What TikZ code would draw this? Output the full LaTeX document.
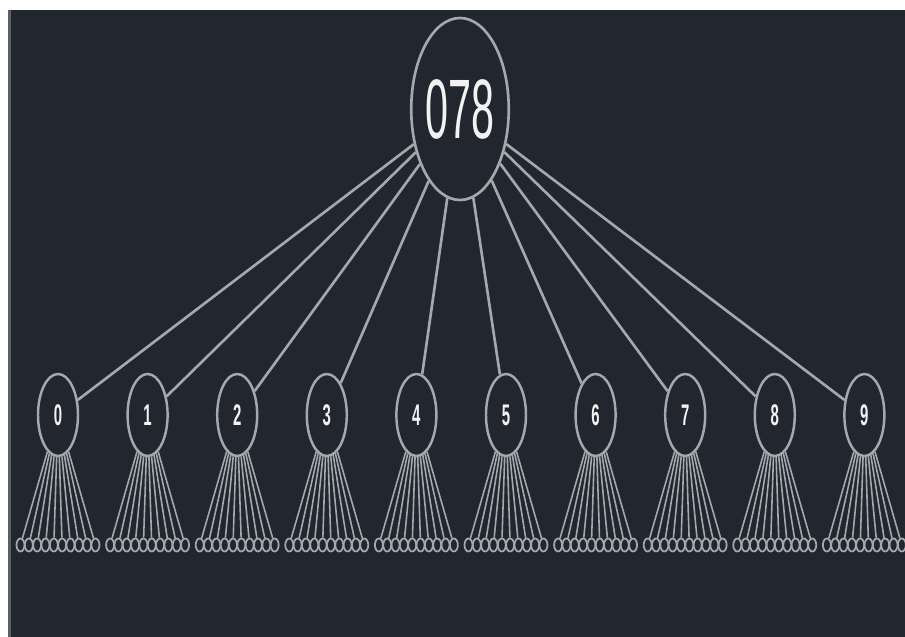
\documentclass[tikz,border=0pt]{standalone}
\usepackage{fontspec}
\setmainfont{Liberation Sans}
\usepackage{graphicx}
\usepackage{xcolor}
\usepackage{tikz}
\usetikzlibrary{shapes.geometric}
\definecolor{bgdark}{HTML}{22272F}
\definecolor{edgegray}{HTML}{5A6068}
\definecolor{linegray}{HTML}{A4A9AE}
\definecolor{digitwhite}{HTML}{F2F2F2}

\begin{document}
\begin{tikzpicture}[
  rootnode/.style={ellipse, draw=linegray, line width=0.75pt, inner sep=0pt,
    minimum width=0.86cm, minimum height=1.82cm, text=digitwhite},
  digitnode/.style={ellipse, draw=linegray, line width=0.7pt, inner sep=0pt,
    minimum width=0.40cm, minimum height=0.82cm, text=digitwhite},
  leafnode/.style={ellipse, draw=linegray, line width=0.5pt, inner sep=0pt,
    minimum width=0.08cm, minimum height=0.13cm},
  rootlink/.style={linegray, line width=0.75pt},
  leaflink/.style={linegray, line width=0.45pt}]
  \useasboundingbox (0,0) rectangle (9.05,6.37);
  % backdrop
  \fill[white] (0,0) rectangle (9.05,6.37);
  \fill[bgdark] (0.08,0) rectangle (9.05,6.27);
  \fill[edgegray] (0.08,0) rectangle (0.11,6.27);
  % root
  \node[rootnode] (root) at (4.60,5.28)
    {\scalebox{0.49}[1]{\fontsize{24}{24}\selectfont 078}};
  % digits and their leaves
  \foreach \i in {0,...,9} {
    \node[digitnode] (c\i) at ({0.58+0.896*\i},2.22)
      {\scalebox{0.5}[1]{\fontsize{8.5}{8.5}\selectfont\bfseries \i}};
    \draw[rootlink] (root) -- (c\i);
    \foreach \j in {0,...,9} {
      \node[leafnode] (l\i-\j) at ({0.58+0.896*\i-0.375+0.0833*\j},0.92) {};
      \draw[leaflink] (c\i) -- (l\i-\j);
    }
  }
\end{tikzpicture}
\end{document}
